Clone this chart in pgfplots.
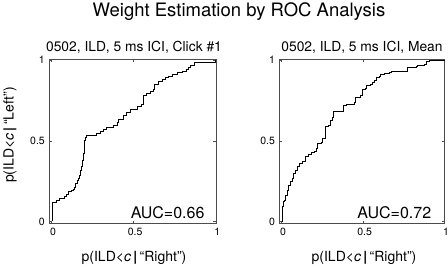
\documentclass[border=0pt]{standalone}
\usepackage{fontspec}
\setmainfont{TeX Gyre Heros}
\usepackage{pgfplots}
\pgfplotsset{compat=1.18}
\newcommand{\barmid}{\,{\bfseries|}\,}
\begin{document}
\begin{tikzpicture}[x=1bp,y=1bp]
\useasboundingbox (0,0) rectangle (448,267);
\pgfplotsset{rocax/.style={
  scale only axis, width=166.5bp, height=164bp,
  anchor=south west,
  xmin=-0.0135, xmax=1.0, ymin=-0.008, ymax=1.006,
  xtick={0,0.5,1}, ytick={0,0.5,1},
  xticklabels={0,0.5,1}, yticklabels={0,0.5,1},
  tick align=inside, major tick length=2.5bp,
  tick style={black!70, line width=0.5bp},
  axis line style={black!70, line width=0.6bp},
  tick label style={font=\fontsize{10.5bp}{12bp}\selectfont},
  /pgf/number format/assume math mode=true,
  xticklabel style={yshift=-1.5bp, xshift=1.5bp},
  yticklabel style={xshift=-1bp},
  clip=false,
}}
\begin{axis}[rocax, at={(49.3bp,44bp)}]
\addplot[const plot, black, line width=0.8bp] coordinates {
(0,0.011) (0.003,0.118) (0.028,0.13) (0.049,0.145) (0.076,0.158) (0.09,0.17)
(0.105,0.185) (0.118,0.196) (0.133,0.2) (0.142,0.215) (0.148,0.237) (0.155,0.255)
(0.162,0.268) (0.168,0.285) (0.173,0.30) (0.178,0.32) (0.183,0.34) (0.189,0.381)
(0.195,0.42) (0.199,0.464) (0.203,0.505) (0.208,0.52) (0.214,0.536) (0.272,0.546)
(0.296,0.561) (0.317,0.572) (0.337,0.582) (0.378,0.596) (0.402,0.612) (0.405,0.633)
(0.438,0.658) (0.454,0.674) (0.479,0.695) (0.52,0.716) (0.55,0.726) (0.557,0.782)
(0.578,0.794) (0.602,0.805) (0.622,0.819) (0.626,0.85) (0.652,0.87) (0.672,0.88)
(0.693,0.891) (0.712,0.9) (0.735,0.912) (0.765,0.922) (0.795,0.932) (0.822,0.943)
(0.836,0.953) (0.847,0.965) (0.867,0.984) (1.0,1.0)
};
\node[anchor=base east, font=\fontsize{16bp}{18bp}\selectfont] at (rel axis cs:0.953,0.029) {AUC=0.66};
\end{axis}
\begin{axis}[rocax, at={(279.4bp,44bp)}, width=165.2bp, xticklabel style={xshift=0bp}]
\addplot[const plot, black, line width=0.8bp] coordinates {
(0,0.0) (0.002,0.05) (0.005,0.093) (0.011,0.124) (0.019,0.134) (0.026,0.165)
(0.036,0.196) (0.044,0.227) (0.055,0.248) (0.065,0.268) (0.075,0.299) (0.085,0.32)
(0.098,0.34) (0.112,0.361) (0.127,0.371) (0.143,0.402) (0.164,0.417) (0.18,0.427)
(0.201,0.433) (0.215,0.454) (0.221,0.485) (0.246,0.489) (0.25,0.516) (0.266,0.53)
(0.27,0.588) (0.287,0.598) (0.297,0.625) (0.31,0.643) (0.316,0.684) (0.377,0.719)
(0.398,0.726) (0.447,0.74) (0.454,0.767) (0.485,0.781) (0.495,0.818) (0.515,0.822)
(0.522,0.843) (0.546,0.849) (0.557,0.863) (0.571,0.876) (0.584,0.891) (0.598,0.897)
(0.608,0.912) (0.629,0.918) (0.66,0.926) (0.674,0.932) (0.769,0.953) (0.824,0.959)
(0.834,0.967) (0.876,0.973) (0.886,0.994) (0.907,1.0) (1.0,1.0)
};
\node[anchor=base east, font=\fontsize{16bp}{18bp}\selectfont] at (rel axis cs:0.94,0.029) {AUC=0.72};
\end{axis}
\node[anchor=base, font=\fontsize{18.5bp}{20bp}\selectfont] at (239,250.3) {Weight Estimation by ROC Analysis};
\node[anchor=base, font=\fontsize{13.8bp}{16bp}\selectfont] at (134,215.5) {0502, ILD, 5 ms ICI, Click \#1};
\node[anchor=base, font=\fontsize{13.8bp}{16bp}\selectfont] at (362,215.5) {0502, ILD, 5 ms ICI, Mean};
\node[anchor=base, font=\fontsize{14bp}{16bp}\selectfont] at (134,6) {p(ILD<\textit{c}\barmid“Right”)};
\node[anchor=base, font=\fontsize{14bp}{16bp}\selectfont] at (364,6) {p(ILD<\textit{c}\barmid“Right”)};
\node[rotate=90, anchor=base, font=\fontsize{14bp}{16bp}\selectfont] at (13.5,132) {p(ILD<\textit{c}\barmid“Left”)};
\end{tikzpicture}
\end{document}
